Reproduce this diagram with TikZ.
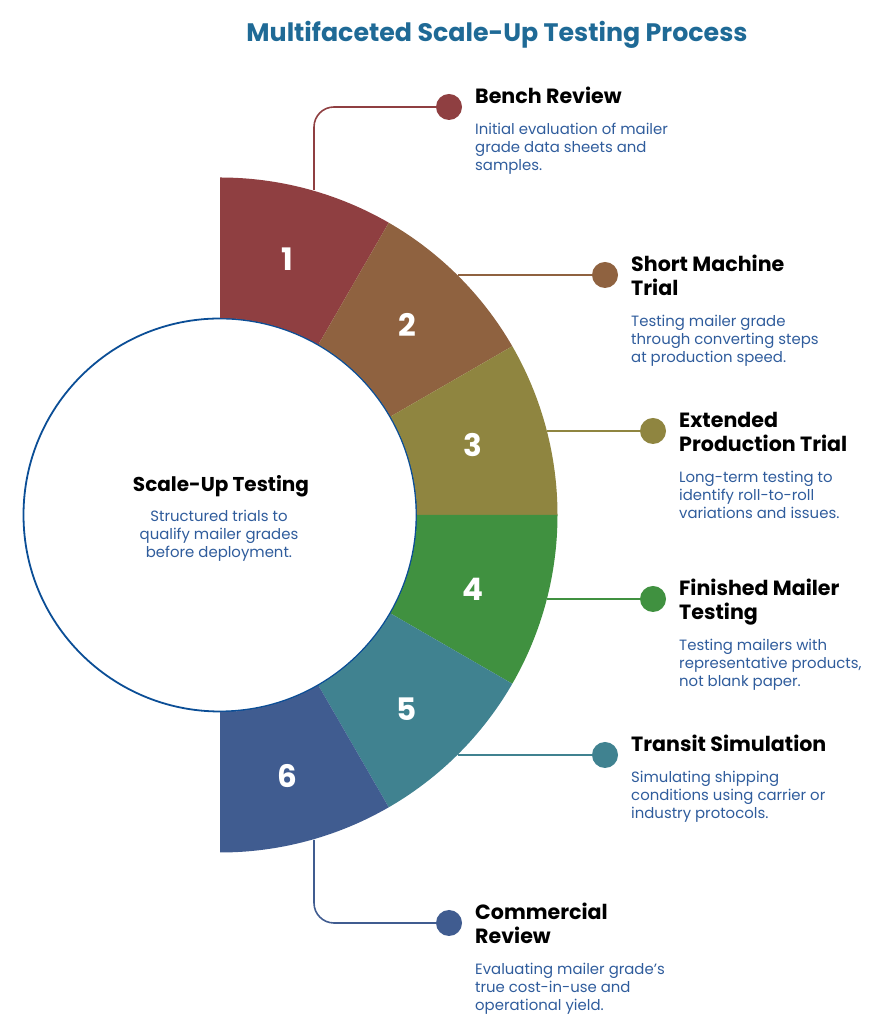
\documentclass[tikz,border=0pt]{standalone}
\usepackage{fontspec}
\setmainfont{Poppins}
\usetikzlibrary{positioning}
\definecolor{titleblue}{RGB}{31, 106, 150}
\definecolor{bodyblue}{RGB}{47, 92, 156}
\definecolor{ringblue}{RGB}{11, 78, 150}
\definecolor{benchred}{RGB}{143, 63, 65}
\definecolor{shortbrown}{RGB}{143, 98, 64}
\definecolor{extolive}{RGB}{143, 133, 64}
\definecolor{finishgreen}{RGB}{64, 145, 64}
\definecolor{transteal}{RGB}{64, 130, 144}
\definecolor{commblue}{RGB}{64, 92, 144}
\newcommand{\ringpart}[3]{\fill[#1] ([shift={(#2:337.5)}]hub) arc[start angle=#2, end angle=#3, radius=337.5] -- ([shift={(#3:197)}]hub) arc[start angle=#3, end angle=#2, radius=197] -- cycle;}

\begin{document}
\begin{tikzpicture}[
    x=1pt, y=1pt,
    numeral/.style={text=white, inner sep=0pt, font=\fontsize{31}{32}\selectfont\bfseries},
    dotmark/.style={circle, minimum size=26pt, inner sep=0pt},
    heading/.style={anchor=north west, inner sep=0pt, align=left, text depth=0pt, text=black, font=\fontsize{20.6}{24}\selectfont\bfseries},
    bodytext/.style={inner sep=0pt, align=left, text=bodyblue, font=\fontsize{14.9}{18}\selectfont},
    link/.style={line width=1.6pt}
]
\useasboundingbox (0,0) rectangle (892,1024);

\coordinate (hub) at (220,509);

% centre circle
\node[circle, draw=ringblue, line width=1.8pt, fill=white, minimum size=393pt, inner sep=0pt] (core) at (hub) {};
\node[heading, anchor=center, font=\fontsize{20}{24}\selectfont\bfseries] (corehead) at (221,541) {Scale-Up Testing};
\node[bodytext, align=center, anchor=center] (corebody) at (219,488) {Structured trials to\\qualify mailer grades\\before deployment.};

% title
\node[inner sep=0pt, text=titleblue, font=\fontsize{25.3}{30}\selectfont\bfseries] (title) at (497,989) {Multifaceted Scale-Up Testing Process};

% free ends on the ring
\coordinate (end1) at (314,834);
\coordinate (end2) at (458,749);
\coordinate (end3) at (547,593);
\coordinate (end4) at (547,425);
\coordinate (end5) at (458,269);
\coordinate (end6) at (314,184);

% dots
\node[dotmark, fill=benchred] (dot1) at (449,917) {};
\node[dotmark, fill=shortbrown] (dot2) at (605,749) {};
\node[dotmark, fill=extolive] (dot3) at (653,593) {};
\node[dotmark, fill=finishgreen] (dot4) at (653,425) {};
\node[dotmark, fill=transteal] (dot5) at (605,269) {};
\node[dotmark, fill=commblue] (dot6) at (449,101) {};

% connectors
\draw[link, benchred, rounded corners=20pt] (end1) |- (dot1);
\draw[link, shortbrown] (end2) -- (dot2);
\draw[link, extolive] (end3) -- (dot3);
\draw[link, finishgreen] (end4) -- (dot4);
\draw[link, transteal] (end5) -- (dot5);
\draw[link, commblue, rounded corners=20pt] (end6) |- (dot6);

% ring
\ringpart{benchred}{90}{60}
\ringpart{shortbrown}{60}{30}
\ringpart{extolive}{30}{0}
\ringpart{finishgreen}{0}{-30}
\ringpart{transteal}{-30}{-60}
\ringpart{commblue}{-60}{-90}

\node[numeral] (num1) at (287,765) {1};
\node[numeral] (num2) at (407,699) {2};
\node[numeral] (num3) at (473,579) {3};
\node[numeral] (num4) at (473,435) {4};
\node[numeral] (num5) at (407,315) {5};
\node[numeral] (num6) at (287,248) {6};

% labels
\node[heading] (head1) at (475,937) {Bench Review};
\node[bodytext, below right=19pt and 0pt of head1.south west] (body1) {Initial evaluation of mailer\\grade data sheets and\\samples.};
\node[heading] (head2) at (631,769) {Short Machine\\Trial};
\node[bodytext, below right=19pt and 0pt of head2.south west] (body2) {Testing mailer grade\\through converting steps\\at production speed.};
\node[heading] (head3) at (679,612) {Extended\\Production Trial};
\node[bodytext, below right=19pt and 0pt of head3.south west] (body3) {Long-term testing to\\identify roll-to-roll\\variations and issues.};
\node[heading] (head4) at (679,445) {Finished Mailer\\Testing};
\node[bodytext, below right=19pt and 0pt of head4.south west] (body4) {Testing mailers with\\representative products,\\not blank paper.};
\node[heading] (head5) at (631,289) {Transit Simulation};
\node[bodytext, below right=19pt and 0pt of head5.south west] (body5) {Simulating shipping\\conditions using carrier or\\industry protocols.};
\node[heading] (head6) at (475,121) {Commercial\\Review};
\node[bodytext, below right=19pt and 0pt of head6.south west] (body6) {Evaluating mailer grade's\\true cost-in-use and\\operational yield.};

\end{tikzpicture}
\end{document}
